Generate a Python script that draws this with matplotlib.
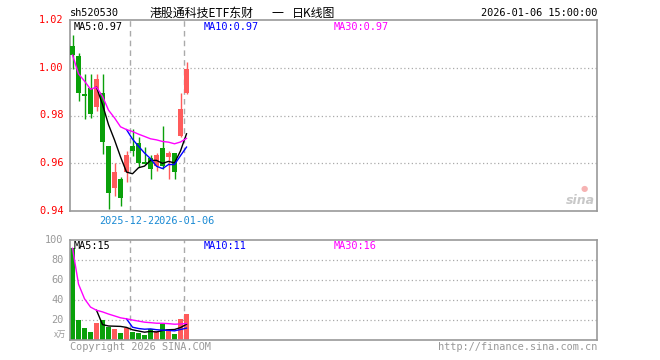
import matplotlib
matplotlib.use("Agg")
import matplotlib.pyplot as plt
import numpy as np
import pandas as pd

dates = ["2025-12-08", "2025-12-09", "2025-12-10", "2025-12-11", "2025-12-12",
         "2025-12-15", "2025-12-16", "2025-12-17", "2025-12-18", "2025-12-19",
         "2025-12-22", "2025-12-23", "2025-12-24", "2025-12-25", "2025-12-26",
         "2025-12-29", "2025-12-30", "2025-12-31", "2026-01-05", "2026-01-06"]
opens = [1.0093, 1.0051, 0.9889, 0.9917, 0.9836, 0.9893, 0.9674, 0.9496, 0.9535, 0.9563,
         0.9674, 0.9685, 0.9604, 0.9621, 0.9590, 0.9664, 0.9625, 0.9643, 0.9715, 0.9893]
highs = [1.0136, 1.0063, 0.9972, 0.9972, 0.9972, 0.9972, 0.9674, 0.9600, 0.9542, 0.9653,
         0.9743, 0.9708, 0.9667, 0.9635, 0.9643, 0.9757, 0.9653, 0.9643, 0.9896, 1.0024]
lows = [0.9993, 0.9861, 0.9785, 0.9788, 0.9819, 0.9639, 0.9410, 0.9461, 0.9419, 0.9521,
        0.9632, 0.9583, 0.9597, 0.9532, 0.9569, 0.9576, 0.9532, 0.9532, 0.9708, 0.9889]
closes = [1.0053, 0.9896, 0.9883, 0.9808, 0.9954, 0.9688, 0.9475, 0.9563, 0.9454, 0.9635,
          0.9653, 0.9601, 0.9597, 0.9574, 0.9635, 0.9590, 0.9643, 0.9565, 0.9826, 0.9993]
volumes = [91.7, 20, 12, 8, 17, 20, 13, 11, 7, 12,
           8, 7, 5, 11, 9, 15.6, 10.8, 6, 20.7, 25.6]

price_ticks = [1.02, 1.00, 0.98, 0.96, 0.94]
vol_ticks = [100, 80, 60, 40, 20]
label_dates = ["2025-12-22", "2026-01-06"]

title_parts = ["港股通科技ETF东财", "一", "日K线图"]
code = "sh520530"
timestamp = "2026-01-06 15:00:00"
price_ma_labels = ["MA5:0.97", "MA10:0.97", "MA30:0.97"]
vol_ma_labels = ["MA5:15", "MA10:11", "MA30:16"]

RED = "#ff5b5b"
GREEN = "#0aa00a"
GRAY = "#999999"
MA_COLORS = ["#000000", "#0000ff", "#ff00ff"]
BLUE_DATE = "#1a8ad4"
MONO = "DejaVu Sans Mono"
CJK = ["Noto Sans CJK SC", "DejaVu Sans"]

c = pd.Series(closes)
v = pd.Series(volumes)
ma5 = c.rolling(5).mean()
ma10 = c.rolling(10).mean()
ma30 = c.rolling(30, min_periods=1).mean()
vma5 = v.rolling(5).mean()
vma10 = v.rolling(10).mean()
vma30 = v.rolling(30, min_periods=1).mean()

W, H = 660, 360
fig = plt.figure(figsize=(W / 100, H / 100), dpi=100)

def px_rect(x0, y0, x1, y1):
    return [x0 / W, 1 - y1 / H, (x1 - x0) / W, (y1 - y0) / H]

ax = fig.add_axes(px_rect(70, 20, 597, 211))
axv = fig.add_axes(px_rect(70, 240, 597, 340))

xs = np.arange(len(closes))
XL = (-0.42, 87.42)
bw = 0.8

for a in (ax, axv):
    a.set_xlim(*XL)
    a.set_xticks([])
    a.set_yticks([])
    for s in a.spines.values():
        s.set_color(GRAY)
        s.set_linewidth(1.2)

ax.set_ylim(0.94, 1.02)
axv.set_ylim(0, 100)

# grids
for t in price_ticks[1:-1]:
    ax.axhline(t, color="#aaaaaa", lw=0.9, ls=(0, (1, 2)), zorder=0)
for t in vol_ticks[1:]:
    axv.axhline(t, color="#aaaaaa", lw=0.9, ls=(0, (1, 2)), zorder=0)
for d in label_dates:
    i = dates.index(d)
    for a in (ax, axv):
        a.axvline(i - 0.38, color="#aaaaaa", lw=1.0, ls=(0, (4, 3)), zorder=0)

# candles
for i in range(len(closes)):
    o, h, l, cl = opens[i], highs[i], lows[i], closes[i]
    col = RED if cl >= o else GREEN
    ax.vlines(xs[i], l, h, color=col, lw=1.0, zorder=2)
    bot = min(o, cl)
    hgt = max(abs(cl - o), 0.0003)
    ax.bar(xs[i], hgt, bottom=bot, width=bw, color=col, edgecolor=col, lw=0, zorder=3)
    axv.bar(xs[i], volumes[i], width=bw, color=col, lw=0, zorder=2)

for ser, colr in zip((ma5, ma10, ma30), MA_COLORS):
    ax.plot(xs, ser, color=colr, lw=1.0, zorder=4)
for ser, colr in zip((vma5, vma10, vma30), MA_COLORS):
    axv.plot(xs, ser, color=colr, lw=1.0, zorder=4)

# y labels
for t in price_ticks:
    ax.text(-0.012, t, f"{t:.2f}", transform=ax.get_yaxis_transform(), ha="right",
            va="center", color="red", fontsize=7.4, family=MONO)
for t in vol_ticks:
    axv.text(-0.012, t, f"{t}", transform=axv.get_yaxis_transform(), ha="right",
             va="center", color=GRAY, fontsize=7.4, family=MONO)
fig.text(66 / W, 1 - 334 / H, "x万", ha="right", va="center", color=GRAY, fontsize=6,
         family=CJK)

# MA labels
for lab, colr, xp in zip(price_ma_labels, MA_COLORS, (74, 204, 334)):
    fig.text(xp / W, 1 - 27 / H, lab, color=colr, fontsize=7.4, family=MONO, va="center")
for lab, colr, xp in zip(vol_ma_labels, MA_COLORS, (74, 204, 334)):
    fig.text(xp / W, 1 - 246 / H, lab, color=colr, fontsize=7.4, family=MONO, va="center")

# date labels
for k, d in enumerate(label_dates):
    i = dates.index(d)
    kw = {}
    if k > 0:
        kw["bbox"] = dict(facecolor="white", edgecolor="none", pad=0.3)
    ax.text(i - 0.38, -0.052, d, transform=ax.get_xaxis_transform(), ha="center",
            va="center", color=BLUE_DATE, fontsize=7.4, family=MONO, zorder=5 + k, **kw)

# header
fig.text(70 / W, 1 - 13 / H, code, color="black", fontsize=7.4, family=MONO, va="center")
for part, xp in zip(title_parts, (150, 271, 292)):
    fig.text(xp / W, 1 - 13 / H, part, color="black", fontsize=8.6, family=CJK,
             va="center", ha="left")
fig.text(597 / W, 1 - 13 / H, timestamp, color="black", fontsize=7.4, family=MONO,
         va="center", ha="right")

# footer
fig.text(70 / W, 1 - 347 / H, "Copyright 2026 SINA.COM", color=GRAY, fontsize=7.4,
         family=MONO, va="center")
fig.text(597 / W, 1 - 347 / H, "http://finance.sina.com.cn", color=GRAY, fontsize=7.4,
         family=MONO, va="center", ha="right")

# watermark
fig.text(580 / W, 1 - 200 / H, "sina", color="#bbbbbb", fontsize=9, fontweight="bold",
         style="italic", ha="center", va="center", alpha=0.8)
fig.text(584 / W, 1 - 189 / H, "●", color="#f4a0a0", fontsize=6, ha="center", va="center",
         alpha=0.8)

fig.savefig("out.png", dpi=100)
